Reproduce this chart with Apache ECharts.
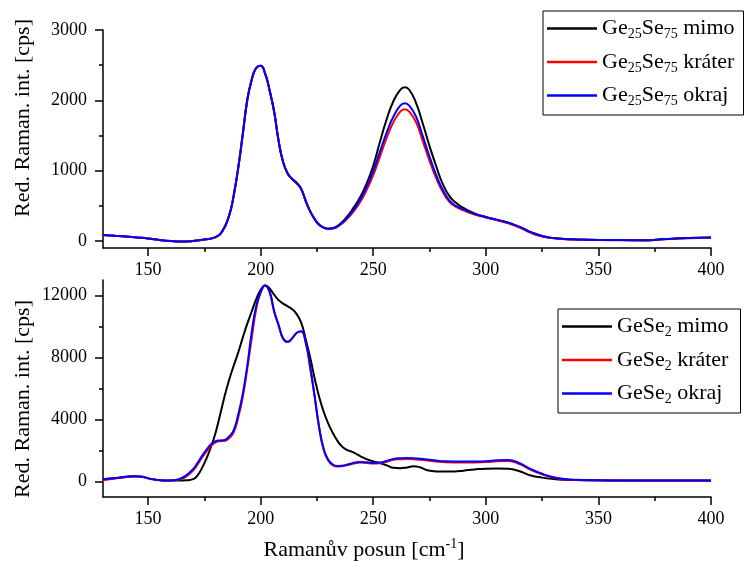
<!DOCTYPE html>
<html>
<head>
<meta charset="utf-8">
<script src="https://cdn.jsdelivr.net/npm/echarts@6/dist/echarts.min.js"></script>
<style>
  html, body { margin: 0; padding: 0; background: #fff; }
  #chart { width: 744px; height: 561px; }
</style>
</head>
<body>
<div id="chart"></div>
<script>
// Raman shift (cm^-1) sample positions, upper panel (Ge25Se75)
const shiftTop = [130,135,140,145,150,155,160,165,170,175,180,183,186,188,190,192,194,196,198,200,
  202,204,206,208,210,212,214,216,218,220,222,224,226,228,230,232,235,238,241,244,247,250,253,256,
  259,262,264,266,269,272,275,278,281,284,287,290,295,300,305,310,315,320,325,330,335,340,350,360,
  370,380,390,400];

const ge25MimoTop = [85,75,65,50,35,15,0,-8,0,20,55,140,360,640,1030,1500,1990,2290,2460,2490,
  2380,2140,1840,1420,1120,960,885,830,745,570,420,310,230,190,175,182,235,330,460,610,810,1070,1410,1735,
  1990,2150,2185,2150,1965,1670,1350,1060,800,630,535,470,390,340,300,260,200,125,70,42,28,22,15,12,
  10,28,42,48];

const ge25KraterTop = [85,75,65,50,35,15,0,-8,0,20,55,140,360,640,1030,1500,1990,2290,2460,2490,
  2380,2140,1840,1420,1120,960,880,820,740,570,420,310,230,190,175,178,220,300,410,545,720,935,1200,1470,
  1690,1840,1872,1840,1690,1420,1140,890,690,550,480,435,375,335,295,250,190,115,62,40,26,20,14,10,
  8,25,40,45];

const ge25OkrajTop = [85,75,65,50,35,15,0,-8,0,20,55,140,360,640,1030,1500,1990,2290,2460,2490,
  2380,2140,1840,1420,1120,960,880,820,740,570,420,310,230,190,175,180,228,315,430,575,765,995,1270,1545,
  1770,1925,1957,1925,1770,1490,1200,935,720,570,495,450,385,340,300,260,200,125,70,42,28,22,15,12,
  10,28,42,48];

// Raman shift (cm^-1) sample positions, lower panel (GeSe2)
const shiftBottom = [130,133,137,140,144,148,151,155,158,161,164,167,170,172,174,176,178,180,182,184,
  186,188,190,192,194,196,198,200,202,204,206,208,210,212,214,216,218,220,222,224,226,228,230,232,
  234,236,238,240,242,244,247,250,253,256,259,262,265,268,271,274,278,282,286,290,295,300,305,310,
  315,320,325,330,335,340,350,360,370,380,390,400];

const geSe2Mimo = [150,190,240,300,345,290,170,90,65,65,65,80,150,400,880,1500,2250,3150,4300,5500,
  6550,7450,8300,9250,10150,10950,11750,12350,12650,12450,12050,11700,11480,11300,11120,10800,10250,9200,8000,6650,
  5450,4500,3750,3150,2650,2280,2060,1950,1820,1660,1440,1300,1190,1040,880,860,910,990,900,730,
  650,640,650,700,780,830,840,820,660,390,250,160,110,90,75,70,65,65,65,65];

const geSe2Krater = [80,150,220,280,330,280,160,80,55,70,120,320,700,1100,1550,1950,2300,2520,2600,2620,
  2800,3150,4100,5400,7200,9200,11100,12200,12650,12200,10950,10050,9200,9000,9220,9580,9680,8950,7350,5450,
  3450,2050,1350,1050,960,990,1040,1110,1180,1220,1200,1160,1180,1280,1400,1440,1450,1440,1400,1360,
  1290,1240,1230,1230,1230,1250,1310,1330,1120,750,460,260,150,100,70,60,55,55,55,55];

const geSe2Okraj = [130,190,240,300,345,290,170,90,65,80,160,400,800,1200,1650,2060,2400,2600,2650,2680,
  2900,3300,4300,5600,7400,9600,11300,12200,12650,12250,11000,10100,9240,9020,9250,9600,9700,9000,7400,5500,
  3500,2100,1400,1100,1000,1020,1070,1150,1220,1260,1240,1200,1220,1330,1460,1500,1510,1500,1460,1420,
  1350,1300,1290,1290,1290,1310,1370,1390,1180,800,500,280,160,110,80,70,65,65,65,65];

// Axis tick values
const xMajor = [150,200,250,300,350,400];
const xMinor = [175,225,275,325,375];
const yTopMajor = [0,1000,2000,3000];
const yTopMinor = [500,1500,2500];
const yBottomMajor = [0,4000,8000,12000];
const yBottomMinor = [2000,6000,10000];

const serif = '"Liberation Serif", "Times New Roman", serif';
const pair = (xs, ys) => xs.map((x, i) => [x, ys[i]]);

function majorAxis(extra) {
  return Object.assign({
    type: 'value',
    axisLine: { show: true, onZero: false, lineStyle: { color: '#000', width: 1.5 } },
    axisTick: { show: true, inside: false, length: 8, lineStyle: { color: '#000', width: 1.5 } },
    axisLabel: { color: '#000', fontFamily: serif, fontSize: 18, formatter: v => String(v) },
    splitLine: { show: false }
  }, extra);
}
function minorAxis(extra, ticks) {
  return Object.assign({
    type: 'value',
    axisLine: { show: false, onZero: false },
    axisTick: { show: true, inside: false, length: 4, customValues: ticks, lineStyle: { color: '#000', width: 1.5 } },
    axisLabel: { show: false },
    splitLine: { show: false }
  }, extra);
}
function xMain(gridIndex) {
  const a = majorAxis({ gridIndex, min: 130, max: 400, position: 'bottom' });
  a.axisTick.customValues = xMajor;
  a.axisLabel.customValues = xMajor;
  a.axisLabel.margin = 13;
  return a;
}
function yMain(gridIndex, min, max, ticks) {
  const a = majorAxis({ gridIndex, min, max, position: 'left' });
  a.axisTick.customValues = ticks;
  a.axisLabel.customValues = ticks;
  a.axisLabel.margin = 16;
  return a;
}

const richLegend = {
  n: { fontFamily: serif, fontSize: 22, color: '#000', lineHeight: 26 },
  s: { fontFamily: serif, fontSize: 14, color: '#000', lineHeight: 14, verticalAlign: 'bottom' }
};

function legendLabel(name) {
  return name
    .replace('Ge25Se75', '{n|Ge}{s|25}{n|Se}{s|75}{n|')
    .replace('GeSe2', '{n|GeSe}{s|2}{n|') + '}';
}

function legendBox(names, left, top, padRight) {
  return {
    data: names.map(name => ({ name, icon: 'rect' })),
    left, top, orient: 'vertical',
    itemWidth: 50, itemHeight: 2.5, itemGap: 9.5,
    padding: [6.5, padRight, 6.5, 4],
    borderColor: '#000', borderWidth: 1, backgroundColor: '#fff',
    formatter: legendLabel,
    textStyle: { rich: richLegend }
  };
}

function line(name, color, xs, ys, xi, yi) {
  return {
    type: 'line', name, xAxisIndex: xi, yAxisIndex: yi,
    data: pair(xs, ys), smooth: 0.5, symbol: 'none',
    lineStyle: { color, width: 2 }, itemStyle: { color }
  };
}

const chart = echarts.init(document.getElementById('chart'), null, { renderer: 'canvas' });
chart.setOption({
  backgroundColor: '#fff',
  animation: false,
  grid: [
    { left: 103, top: 30, width: 608, height: 218 },
    { left: 103, top: 280, width: 608, height: 217 }
  ],
  xAxis: [
    xMain(0),
    minorAxis({ gridIndex: 0, min: 130, max: 400, position: 'bottom' }, xMinor),
    xMain(1),
    minorAxis({ gridIndex: 1, min: 130, max: 400, position: 'bottom' }, xMinor)
  ],
  yAxis: [
    yMain(0, -100, 3000, yTopMajor),
    minorAxis({ gridIndex: 0, min: -100, max: 3000, position: 'left' }, yTopMinor),
    yMain(1, -1000, 13000, yBottomMajor),
    minorAxis({ gridIndex: 1, min: -1000, max: 13000, position: 'left' }, yBottomMinor)
  ],
  legend: [
    legendBox(['Ge25Se75 mimo', 'Ge25Se75 kráter', 'Ge25Se75 okraj'], 543, 11, 9),
    legendBox(['GeSe2 mimo', 'GeSe2 kráter', 'GeSe2 okraj'], 558, 309, 12)
  ],
  graphic: [
    {
      type: 'text', x: 23, y: 118, rotation: Math.PI / 2,
      style: { text: 'Red. Raman. int. [cps]', fontFamily: serif, fontSize: 22, fill: '#000',
               align: 'center', verticalAlign: 'middle', textAlign: 'center', textVerticalAlign: 'middle' }
    },
    {
      type: 'text', x: 23, y: 399, rotation: Math.PI / 2,
      style: { text: 'Red. Raman. int. [cps]', fontFamily: serif, fontSize: 22, fill: '#000',
               align: 'center', verticalAlign: 'middle', textAlign: 'center', textVerticalAlign: 'middle' }
    },
    {
      type: 'text', x: 364, y: 550,
      style: {
        text: '{n|Ramanův posun [cm}{sup|-1}{n|]}',
        align: 'center', verticalAlign: 'middle', textAlign: 'center', textVerticalAlign: 'middle',
        rich: {
          n: { fontFamily: serif, fontSize: 22, fill: '#000', color: '#000', lineHeight: 26 },
          sup: { fontFamily: serif, fontSize: 14, fill: '#000', color: '#000', lineHeight: 14, verticalAlign: 'top' }
        }
      }
    }
  ],
  series: [
    line('Ge25Se75 mimo', '#000000', shiftTop, ge25MimoTop, 0, 0),
    line('Ge25Se75 kráter', '#ff0000', shiftTop, ge25KraterTop, 0, 0),
    line('Ge25Se75 okraj', '#0000ff', shiftTop, ge25OkrajTop, 0, 0),
    line('GeSe2 mimo', '#000000', shiftBottom, geSe2Mimo, 2, 2),
    line('GeSe2 kráter', '#ff0000', shiftBottom, geSe2Krater, 2, 2),
    line('GeSe2 okraj', '#0000ff', shiftBottom, geSe2Okraj, 2, 2)
  ]
});
</script>
</body>
</html>
